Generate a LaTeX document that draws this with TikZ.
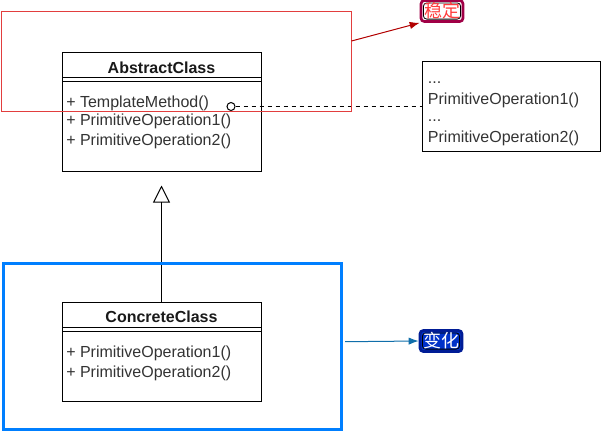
\documentclass[tikz,border=0pt]{standalone}
\usepackage{fontspec}
\setmainfont{Liberation Sans}
\newfontfamily\cjk{Noto Sans CJK SC}
\usetikzlibrary{arrows.meta,positioning}
\definecolor{stablered}{RGB}{226,62,62}
\definecolor{stablearrow}{RGB}{178,0,0}
\definecolor{stableedge}{RGB}{160,0,70}
\definecolor{stabletext}{RGB}{255,60,60}
\definecolor{varblue}{RGB}{0,127,255}
\definecolor{vararrow}{RGB}{16,110,170}
\definecolor{varfill}{RGB}{0,50,200}
\definecolor{varedge}{RGB}{0,28,150}

\begin{document}
\begin{tikzpicture}
[x=0.75pt,y=-0.75pt,
font=\fontsize{12}{14}\selectfont,
classbox/.style ={rectangle, draw, line width=0.75pt, fill=white,
minimum width=149.25pt},
classname/.style={font=\fontsize{12}{14}\selectfont\bfseries,
text=black!90, inner sep=0pt, anchor=base},
member/.style ={text=black!80, inner sep=0pt, anchor=base west},
region/.style ={rectangle, inner sep=0pt},
tag/.style ={rectangle, rounded corners=2.5pt, line width=2pt,
minimum width=31.5pt, minimum height=15.75pt, inner sep=0.5pt,
font=\cjk\fontsize{13.5}{14}\selectfont,
path picture={\draw[black, line width=0.6pt]
([shift={(1.8pt,-1.8pt)}]path picture bounding box.north west) rectangle
([shift={(-1.8pt,1.8pt)}]path picture bounding box.south east);}},
line/.style ={draw, line width=0.75pt}]
\useasboundingbox (0,0) rectangle (602,433);

% the template class
\node [classbox, minimum height=89.25pt] (abstract) at (161.5,111.5) {};
\node [classname] (abstractname) at (161.5,73) {AbstractClass};
\draw [line] (62,77.5) -- (261,77.5);
\draw [line] (62,81) -- (261,81);
\node [member] (tmpl)  at (66,107)   {+ TemplateMethod()};
\node [member] (prim1) at (66,125.7) {+ PrimitiveOperation1()};
\node [member] (prim2) at (66,145)   {+ PrimitiveOperation2()};

% the subclass
\node [classbox, minimum height=74.25pt] (concrete) at (161.5,351.5) {};
\node [classname] (concretename) at (161.5,322.4) {ConcreteClass};
\draw [line] (62,327.3) -- (261,327.3);
\draw [line] (62,331) -- (261,331);
\node [member] (cprim1) at (66,357.4) {+ PrimitiveOperation1()};
\node [member] (cprim2) at (66,377.4) {+ PrimitiveOperation2()};

% note on the template method
\node [rectangle, draw, line width=0.75pt, minimum width=133.5pt,
minimum height=67.5pt] (note) at (511,106) {};
\node [member] (dots1)   at (427.7,83)    {...};
\node [member] (noteop1) at (427.7,104.7) {PrimitiveOperation1()};
\node [member] (dots2)   at (427.7,121.5) {...};
\node [member] (noteop2) at (427.7,142.4) {PrimitiveOperation2()};
\node [circle, draw, line width=0.75pt, fill=white, minimum size=6pt,
inner sep=0pt] (hook) at (231,106.5) {};
\draw [line, dash pattern=on 3pt off 3pt] (hook) -- (hook -| note.west);

\path [line, -{Triangle[open, length=12.75pt, width=12.75pt]},
shorten >=10.5pt] (concrete) -- (abstract);

% stable and varying parts
\node [region, draw=stablered, line width=0.75pt, minimum width=262.5pt,
minimum height=75pt] (fixedpart) at (176,61) {};
\node [region, draw=varblue, line width=2.25pt, minimum width=253.5pt,
minimum height=124.5pt] (varpart) at (172.5,346) {};

\node [tag, draw=stableedge, fill=white, text=stabletext] (stabletag)
at (442,11) {稳定};
\node [tag, draw=varedge, fill=varfill, text=white] (vartag)
at (441,341) {变化};

\path [draw=stablearrow, line width=0.75pt, -{Latex[length=7.5pt,width=5.5pt]}]
([yshift=15pt]fixedpart.east) -- (stabletag.south west);
\path [draw=vararrow, line width=0.75pt, -{Latex[length=7.5pt,width=5.5pt]},
shorten <=1.5pt] ([yshift=3.2pt]varpart.east) -- (vartag.west);
\end{tikzpicture}
\end{document}
